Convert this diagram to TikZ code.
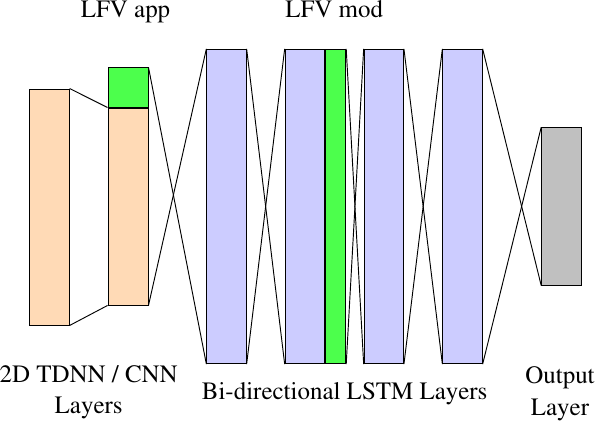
\documentclass[tikz,border=0pt]{standalone}
\usepackage[T1]{fontenc}
\usepackage{times}
\usetikzlibrary{positioning}
\definecolor{PC}{RGB}{255,218,182}
\definecolor{LV}{RGB}{204,204,255}
\definecolor{GN}{RGB}{76,255,76}
\definecolor{GY}{RGB}{192,192,192}

\begin{document}
\begin{tikzpicture}[
  layer/.style={draw=black, line width=0.8pt, fill=#1, inner sep=0pt,
                minimum width=1.18cm},
  lstm/.style={layer=LV, minimum height=9.43cm},
  wire/.style={line width=0.8pt, draw=black},
  lbl/.style={font=\fontsize{21.3}{26.5}\selectfont, align=center, inner sep=0pt},
  node distance=0pt
]
\useasboundingbox (0,0) rectangle (17.88,12.9);

% 2D TDNN / CNN part
\node[layer=PC, minimum height=7.08cm] (cnn1) at (1.485, 6.69) {};
\node[layer=PC, minimum width=1.2cm, minimum height=5.91cm] (cnn2) at (3.84, 6.705) {};
\node[layer=GN, minimum width=1.2cm, minimum height=1.18cm, above=of cnn2] (app) {};

% BLSTM part
\node[lstm] (lstm1) at (6.795, 6.705) {};
\node[lstm] (lstm2) at (9.144, 6.705) {};
\node[layer=GN, minimum width=0.61cm, minimum height=9.43cm, right=of lstm2] (mod) {};
\node[lstm] (lstm3) at (11.514, 6.705) {};
\node[lstm] (lstm4) at (13.875, 6.705) {};

% output
\node[layer=GY, minimum height=4.72cm] (out) at (16.84, 6.71) {};

\draw[wire] (cnn1.north east)--(cnn2.north west);
\draw[wire] (cnn1.south east)--(cnn2.south west);
\draw[wire] (app.north east)--(lstm1.south west);
\draw[wire] (cnn2.south east)--(lstm1.north west);
\draw[wire] (lstm1.north east)--(lstm2.south west);
\draw[wire] (lstm1.south east)--(lstm2.north west);
\draw[wire] (mod.north east)--(lstm3.south west);
\draw[wire] (mod.south east)--(lstm3.north west);
\draw[wire] (lstm3.north east)--(lstm4.south west);
\draw[wire] (lstm3.south east)--(lstm4.north west);
\draw[wire] (lstm4.north east)--(out.south west);
\draw[wire] (lstm4.south east)--(out.north west);

\node[lbl, anchor=base] (tapp) at (3.765, 12.36) {LFV app};
\node[lbl, anchor=base] (tmod) at (10.026, 12.36) {LFV mod};
\node[lbl, anchor=base] (tcnn) at (2.66, 0.50) {2D TDNN / CNN\\Layers};
\node[lbl, anchor=base] (tlstm) at (10.34, 0.93) {Bi-directional LSTM Layers};
\node[lbl, anchor=base] (tout) at (16.80, 0.45) {Output\\Layer};
\end{tikzpicture}
\end{document}
